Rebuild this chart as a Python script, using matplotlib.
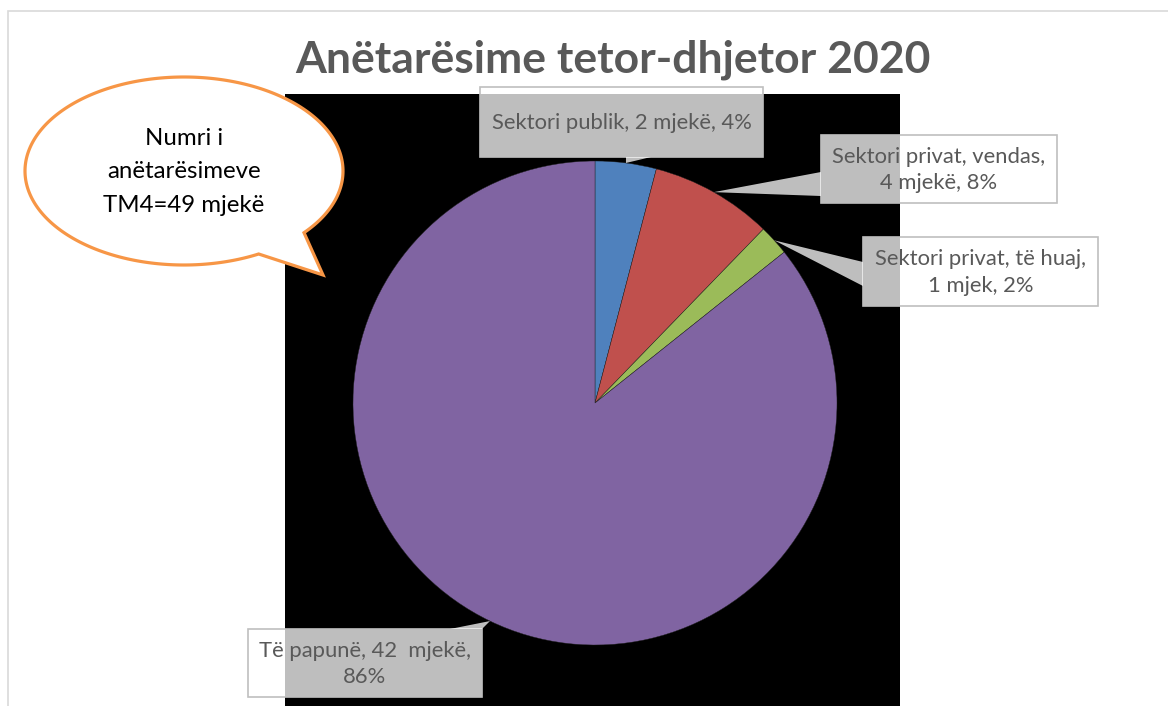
import numpy as np
import matplotlib
matplotlib.use("Agg")
import matplotlib.pyplot as plt
from matplotlib.patches import Rectangle, Polygon

# ---- data ----
categories = ["Sektori publik", "Sektori privat, vendas", "Sektori privat, të huaj", "Të papunë"]
counts = [2, 4, 1, 42]
percents = [4, 8, 2, 86]
label_texts = ["Sektori publik, 2 mjekë, 4%",
               "Sektori privat, vendas,\n4 mjekë, 8%",
               "Sektori privat, të huaj,\n1 mjek, 2%",
               "Të papunë, 42  mjekë,\n86%"]
colors = ["#4F81BD", "#C0504D", "#9BBB59", "#8064A2"]
title = "Anëtarësime tetor-dhjetor 2020"
bubble_text = "Numri i\nanëtarësimeve\nTM4=49 mjekë"

W, H = 1168, 706
FONT = ["Lato", "DejaVu Sans"]
GRAY = "#595959"


def Y(y):
    return H - y


fig = plt.figure(figsize=(W / 100, H / 100), dpi=100)
ax = fig.add_axes([0, 0, 1, 1])

# outer frame
ax.add_patch(Rectangle((8, Y(H + 20)), W + 20, H + 9, fill=False,
                       edgecolor="#D9D9D9", lw=1.2, zorder=0))
# black plot area
ax.add_patch(Rectangle((285, Y(H + 5)), 615, H + 5 - 94, facecolor="black",
                       edgecolor="none", zorder=1))

# pie
cx, cy, R = 595, 403, 242
wedges, _ = ax.pie(counts, colors=colors, startangle=90, counterclock=False,
                   center=(cx, Y(cy)), radius=R,
                   wedgeprops=dict(linewidth=0.3, edgecolor="#202020"))
for w in wedges:
    w.set_zorder(2)

# label boxes (x0, y0, x1, y1) in pixels and leader base points
boxes = [(480, 87, 763, 157), (821, 135, 1057, 203),
         (863, 237, 1098, 306), (248, 629, 482, 697)]
bases = [((626, 157), (651, 157)), ((821, 172), (821, 196)),
         ((863, 262), (863, 286)), ((450, 629), (482, 629))]

total = sum(counts)
start = 90.0
for i, (txt, box, base) in enumerate(zip(label_texts, boxes, bases)):
    span = counts[i] / total * 360
    mid = np.deg2rad(start - span / 2)
    start -= span
    tx = cx + R * np.cos(mid)
    ty = cy - R * np.sin(mid)
    x0, y0, x1, y1 = box
    ax.add_patch(Rectangle((x0, Y(y1)), x1 - x0, y1 - y0, facecolor="white",
                           alpha=0.75, edgecolor="none", zorder=3))
    ax.add_patch(Rectangle((x0, Y(y1)), x1 - x0, y1 - y0, fill=False,
                           edgecolor="#BFBFBF", lw=1.2, zorder=3))
    ax.add_patch(Polygon([(tx, Y(ty)), (base[0][0], Y(base[0][1])),
                          (base[1][0], Y(base[1][1]))], closed=True,
                         facecolor="white", alpha=0.75, edgecolor="none", zorder=3))
    ax.text((x0 + x1) / 2, Y((y0 + y1) / 2 + 1), txt, ha="center", va="center",
            fontsize=15.8, color=GRAY, family=FONT, linespacing=1.38, zorder=4)

# title
ax.text(613, Y(60), title, ha="center", va="center", fontsize=32,
        fontweight="bold", color=GRAY, family=FONT, zorder=5)

# speech bubble
ecx, ecy, ea, eb = 184, 171, 159, 94
angs = np.deg2rad(np.linspace(62, 401, 300))
pts = [(ecx + ea * np.cos(a), Y(ecy + eb * np.sin(a))) for a in angs]
pts.append((323, Y(275)))
ax.add_patch(Polygon(pts, closed=True, facecolor="white", edgecolor="#F79646",
                     lw=2.3, joinstyle="miter", zorder=6))
ax.text(184, Y(172), bubble_text, ha="center", va="center", fontsize=17.3,
        color="black", family=FONT, linespacing=1.72, zorder=7)

ax.set_xlim(0, W)
ax.set_ylim(0, H)
ax.set_aspect("equal")
ax.axis("off")
fig.savefig("out.png", dpi=100)
